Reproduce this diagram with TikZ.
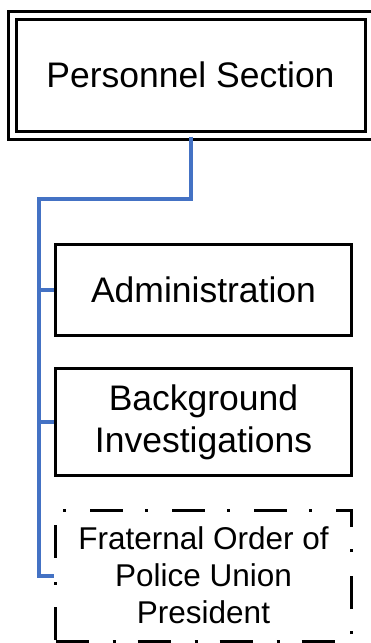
\documentclass[tikz,border=0pt]{standalone}
\usepackage{fontspec}
\setmainfont{Liberation Sans}
\usepackage{tikz}

\begin{document}
\begin{tikzpicture}[x=1pt,y=-1pt,
		unitbox/.style={draw=black, line width=3pt, inner sep=0pt, align=center,
			minimum width=296pt, font=\fontsize{35.5}{42}\selectfont},
		headbox/.style={unitbox, line width=3pt, double=white, double distance=5pt,
			minimum width=357pt, minimum height=120pt},
		optbox/.style={unitbox, dash pattern=on 33pt off 24pt on 3pt off 22pt,
			font=\fontsize{31.5}{37}\selectfont},
		orgline/.style={draw={rgb,255:red,68;green,114;blue,196}, line width=4pt}]
			\useasboundingbox (0,0) rectangle (370,643);
			\node[headbox] (pers) at (190.5,75) {Personnel Section};
			\node[unitbox, minimum height=91pt] (adm) at (203.5,289.5) {Administration};
			\node[unitbox, minimum height=107.5pt] (bgi) at (203.5,422) {Background\\Investigations};
			\node[optbox, minimum height=131pt] (fop) at (203.5,575.5) {Fraternal Order of\\Police Union\\President};
			
			\coordinate (bend) at (39,199);
			\draw[orgline] (pers.south) |- (bend) -- (bend |- fop.west) -- (fop.west);
			\foreach \x in {adm,bgi}{
				\draw[orgline] (bend |- \x.west) -- (\x.west);
			}
		\end{tikzpicture}
\end{document}
